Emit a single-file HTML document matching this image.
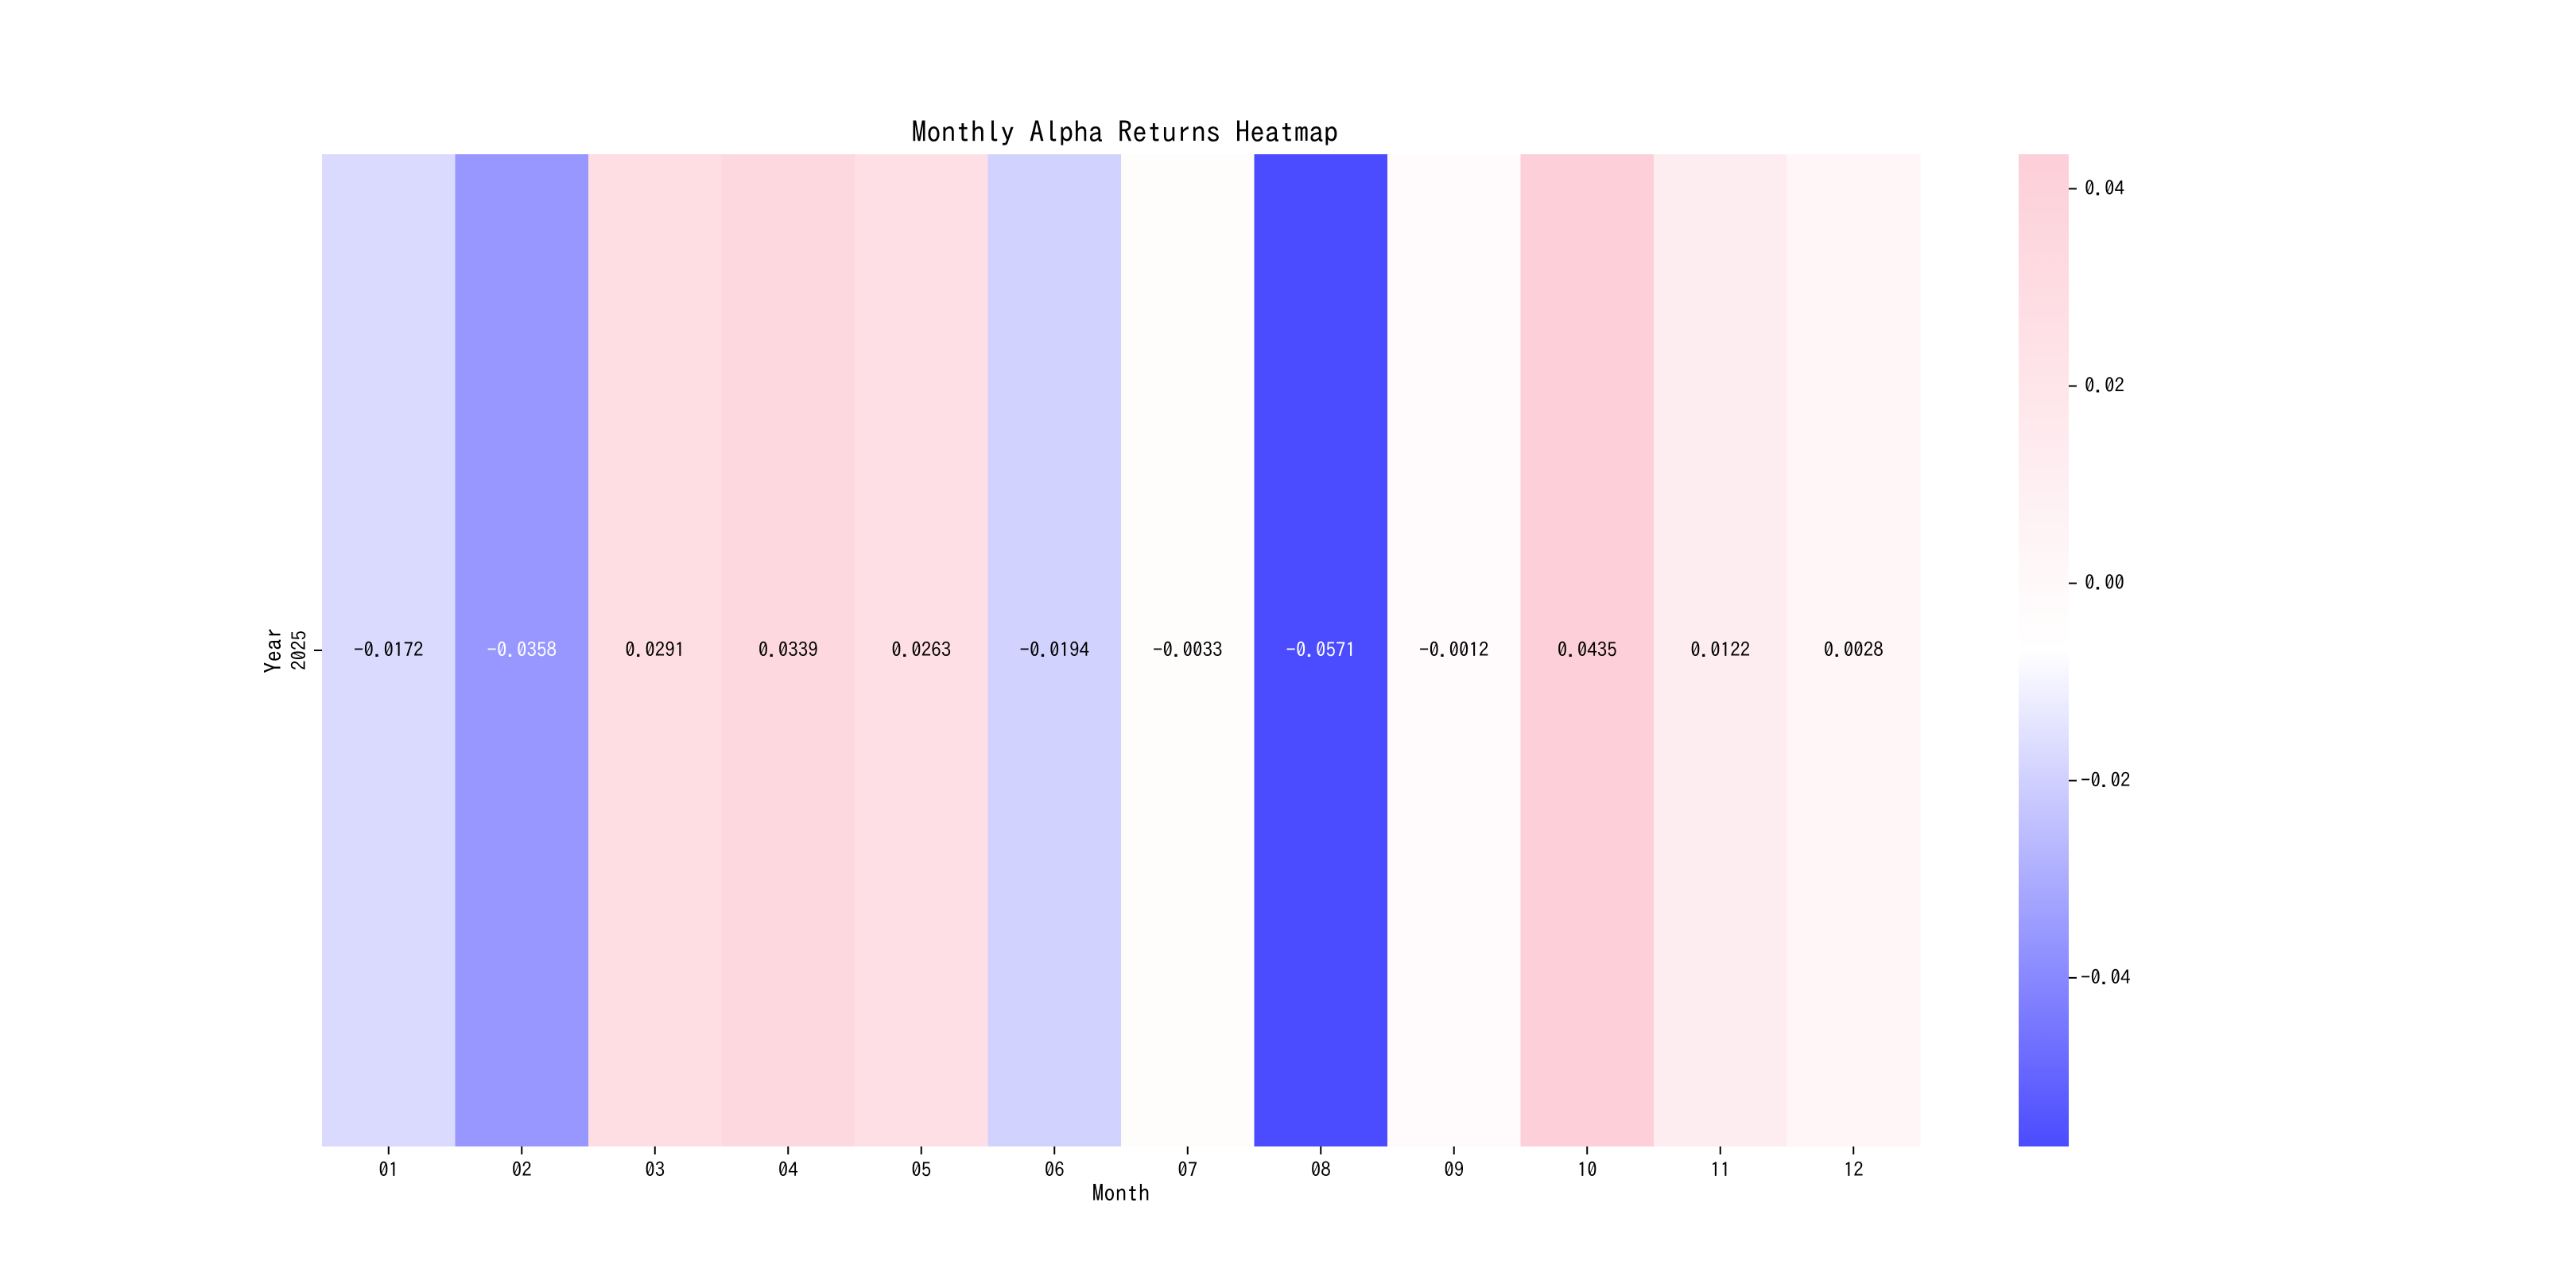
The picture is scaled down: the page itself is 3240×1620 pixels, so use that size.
<!DOCTYPE html>
<html><head><meta charset="utf-8"><style>
html,body{margin:0;padding:0;background:#fff;}
svg{display:block;font-family:"IPAGothic","WenQuanYi Zen Hei","Noto Sans CJK SC",sans-serif;}
</style></head><body>
<svg id="chart" width="3240" height="1620" viewBox="0 0 3240 1620" xmlns="http://www.w3.org/2000/svg">
<defs>
<linearGradient id="cbgrad" x1="0" y1="1" x2="0" y2="0">
<stop offset="0" stop-color="#4B4BFF"/><stop offset="0.5" stop-color="#FFFFFF"/><stop offset="1" stop-color="#FDCFD8"/>
</linearGradient>
</defs>
<text x="1415" y="179" font-size="37" text-anchor="middle" fill="#000">Monthly Alpha Returns Heatmap</text>
<g id="cells"></g>
<g id="xaxis"></g>
<g id="yaxis"></g>
<g id="cbar"></g>
</svg>
<script>
const months = ["01","02","03","04","05","06","07","08","09","10","11","12"];
const years = ["2025"];
const values = [-0.0172,-0.0358,0.0291,0.0339,0.0263,-0.0194,-0.0033,-0.0571,-0.0012,0.0435,0.0122,0.0028];
const cbTicks = [0.04,0.02,0.00,-0.02,-0.04];
const cbTickLabels = ["0.04","0.02","0.00","\u22120.02","\u22120.04"];

const NS="http://www.w3.org/2000/svg";
const L=405,R=2415,T=194,B=1442;
const vmin=Math.min(...values), vmax=Math.max(...values);
const cw=(R-L)/months.length, rh=(B-T)/years.length;
function xPos(i){return L+i*cw;}
function yPos(j){return T+j*rh;}
function lerp(a,b,t){return a.map((v,k)=>Math.round(v+(b[k]-v)*t));}
function color(v){
  const t=(v-vmin)/(vmax-vmin);
  const blue=[75,75,255],white=[255,255,255],pink=[253,207,216];
  const c=t<0.5?lerp(blue,white,t/0.5):lerp(white,pink,(t-0.5)/0.5);
  return "rgb("+c.join(",")+")";
}
function lum(v){return (v-vmin)/(vmax-vmin);}
function mk(tag,attrs,parent){const e=document.createElementNS(NS,tag);for(const k in attrs)e.setAttribute(k,attrs[k]);parent.appendChild(e);return e;}
function fmt(v){const s=v.toFixed(4);return v<0?"\u2212"+s.slice(1):s;}

const cells=document.getElementById("cells");
values.forEach((v,i)=>{
  const r=mk("rect",{x:xPos(i),y:yPos(0),width:cw+0.5,height:rh,fill:color(v)},cells);
  
  
  const t=mk("text",{x:xPos(i)+cw/2,y:yPos(0)+rh/2+8,"font-size":25,"text-anchor":"middle",fill:lum(v)<0.25?"#fff":"#000"},cells);
  
  
  t.textContent=fmt(v);
});

const xa=document.getElementById("xaxis");
months.forEach((m,i)=>{
  const cx=xPos(i)+cw/2;
  const tk=mk("line",{x1:cx,x2:cx,y1:B,y2:B+10,stroke:"#000","stroke-width":2},xa);
  
  
  const t=mk("text",{x:cx,y:B+38,"font-size":25,"text-anchor":"middle",fill:"#000"},xa);
  
  
  t.textContent=m;
});
const xt=mk("text",{x:(L+R)/2,y:1511,"font-size":29,"text-anchor":"middle",fill:"#000"},xa);


xt.textContent="Month";

const ya=document.getElementById("yaxis");
years.forEach((y,j)=>{
  const cy=yPos(j)+rh/2;
  const tk=mk("line",{x1:L-10,x2:L,y1:cy,y2:cy,stroke:"#000","stroke-width":2},ya);
  
  
  const t=mk("text",{x:0,y:0,"font-size":25,"text-anchor":"middle",fill:"#000",transform:"translate(385,"+cy+") rotate(-90)"},ya);
  
  
  t.textContent=y;
});
const yt=mk("text",{x:0,y:0,"font-size":29,"text-anchor":"middle",fill:"#000",transform:"translate(354,"+(T+B)/2+") rotate(-90)"},ya);


yt.textContent="Year";

const cb=document.getElementById("cbar");
const CL=2539,CR=2602;
function cbY(v){return B-(v-vmin)/(vmax-vmin)*(B-T);}
const cr=mk("rect",{x:CL,y:T,width:CR-CL,height:B-T,fill:"url(#cbgrad)"},cb);


cbTicks.forEach((v,i)=>{
  const y=cbY(v);
  const tk=mk("line",{x1:CR,x2:CR+10,y1:y,y2:y,stroke:"#000","stroke-width":2},cb);
  
  
  const t=mk("text",{x:CR+(v<0?15:20),y:y+8,"font-size":25,fill:"#000"},cb);
  
  
  t.textContent=cbTickLabels[i];
});
</script>
</body></html>
